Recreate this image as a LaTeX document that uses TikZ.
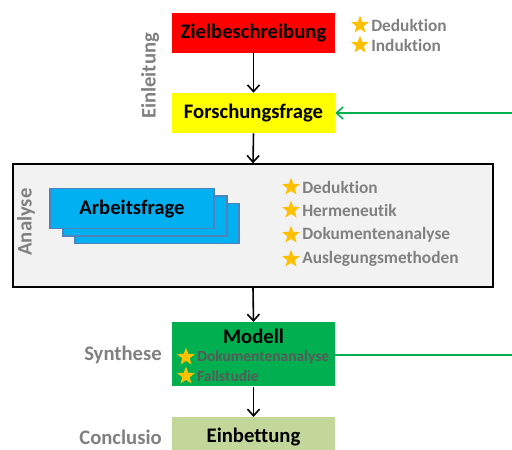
\documentclass[tikz,border=0pt]{standalone}
\usepackage{fontspec}
\setmainfont{Carlito}[Ligatures={NoCommon}]
\usetikzlibrary{shapes.geometric,arrows.meta}
\definecolor{zred}{HTML}{FF0000}
\definecolor{fyellow}{HTML}{FFFF00}
\definecolor{agray}{HTML}{F2F2F2}
\definecolor{ablue}{HTML}{00B0F0}
\definecolor{aborder}{HTML}{4F81BD}
\definecolor{mgreen}{HTML}{00B050}
\definecolor{eolive}{HTML}{C4D79B}
\definecolor{lgray}{HTML}{808080}
\definecolor{dgray}{HTML}{595959}
\definecolor{staryel}{HTML}{FFC000}
\tikzset{
  box/.style={draw=none,minimum width=122.25pt,minimum height=30pt,inner sep=0pt,font=\bfseries\fontsize{15.5}{17}\selectfont},
  stackbox/.style={draw=aborder,line width=0.8pt,fill=ablue,minimum width=123pt,minimum height=30pt,inner sep=0pt},
  phase/.style={text=lgray,font=\bfseries\fontsize{15.5}{17}\selectfont,inner sep=0pt},
  meth/.style={text=lgray,font=\bfseries\fontsize{13}{15}\selectfont,inner sep=0pt,anchor=west},
  mstar/.style={star,star points=5,star point ratio=2.4,fill=staryel,minimum size=14pt,inner sep=0pt},
  flow/.style={-{Straight Barb[length=5pt,width=9pt]},line width=1.2pt,black},
  back/.style={-{Straight Barb[length=5pt,width=9pt]},line width=1.2pt,mgreen}
}
\begin{document}
\begin{tikzpicture}[x=0.75pt,y=-0.75pt]
\useasboundingbox (0,0) rectangle (512,450);
\clip (0,0) rectangle (512,450);
% top boxes
\node[box,fill=zred] (ziel) at (253.5,33) {Zielbeschreibung};
\node[box,fill=fyellow] (forsch) at (253.5,113) {Forschungsfrage};
\node[phase,rotate=90] (einl) at (150,76) {Einleitung};
\node[mstar] (s1) at (360,25) {};
\node[meth] (t1) at (371,25) {Deduktion};
\node[mstar] (s2) at (360,45) {};
\node[meth] (t2) at (371,45) {Induktion};
% analysis
\node[draw=black,line width=1pt,fill=agray,minimum width=360pt,minimum height=92.25pt,inner sep=0pt] (ana) at (253,225.5) {};
\node[phase,rotate=90] (analbl) at (26,222) {Analyse};
\node[stackbox] (ab3) at (157,223.5) {};
\node[stackbox] (ab2) at (145,216) {};
\node[stackbox,font=\bfseries\fontsize{15.5}{17}\selectfont] (ab1) at (132,208.5) {Arbeitsfrage};
\node[mstar] (s3) at (291,187) {};
\node[meth] (t3) at (302,187) {Deduktion};
\node[mstar] (s4) at (291,210) {};
\node[meth] (t4) at (302,210) {Hermeneutik};
\node[mstar] (s5) at (291,235) {};
\node[meth] (t5) at (302,235) {Dokumentenanalyse};
\node[mstar] (s6) at (291,259) {};
\node[meth] (t6) at (302,259) {Auslegungsmethoden};
% synthesis
\node[box,fill=mgreen,minimum height=48pt,anchor=north] (modell) at (253.5,322) {};
\node[font=\bfseries\fontsize{15.5}{17}\selectfont,inner sep=0pt] (mtitle) at (253.5,336) {Modell};
\node[mstar] (s7) at (186,357) {};
\node[meth,text=dgray,font=\bfseries\fontsize{11.6}{13}\selectfont] (t7) at (197,357) {Dokumentenanalyse};
\node[mstar] (s8) at (186,376) {};
\node[meth,text=dgray,font=\bfseries\fontsize{11.6}{13}\selectfont] (t8) at (197,376) {Fallstudie};
\node[phase,anchor=east] (syn) at (162,355) {Synthese};
% conclusio
\node[box,fill=eolive,anchor=north] (einb) at (253.5,417) {};
\node[font=\bfseries\fontsize{15.5}{17}\selectfont,inner sep=0pt] (etitle) at (253.5,437) {Einbettung};
\node[phase,anchor=east] (concl) at (162,437) {Conclusio};
% connectors
\coordinate (fin) at (512,113);
\coordinate (fout) at (512,355);
\draw[flow] (ziel.south) -- (forsch.north);
\draw[flow] (forsch.south) -- (ana.north);
\draw[flow] (ana.south) -- (modell.north);
\draw[flow] (modell.south) -- (einb.north);
\draw[back] (fin) -- (forsch.east);
\draw[mgreen,line width=1.2pt] (modell.east |- fout) -- (fout);
\end{tikzpicture}
\end{document}
